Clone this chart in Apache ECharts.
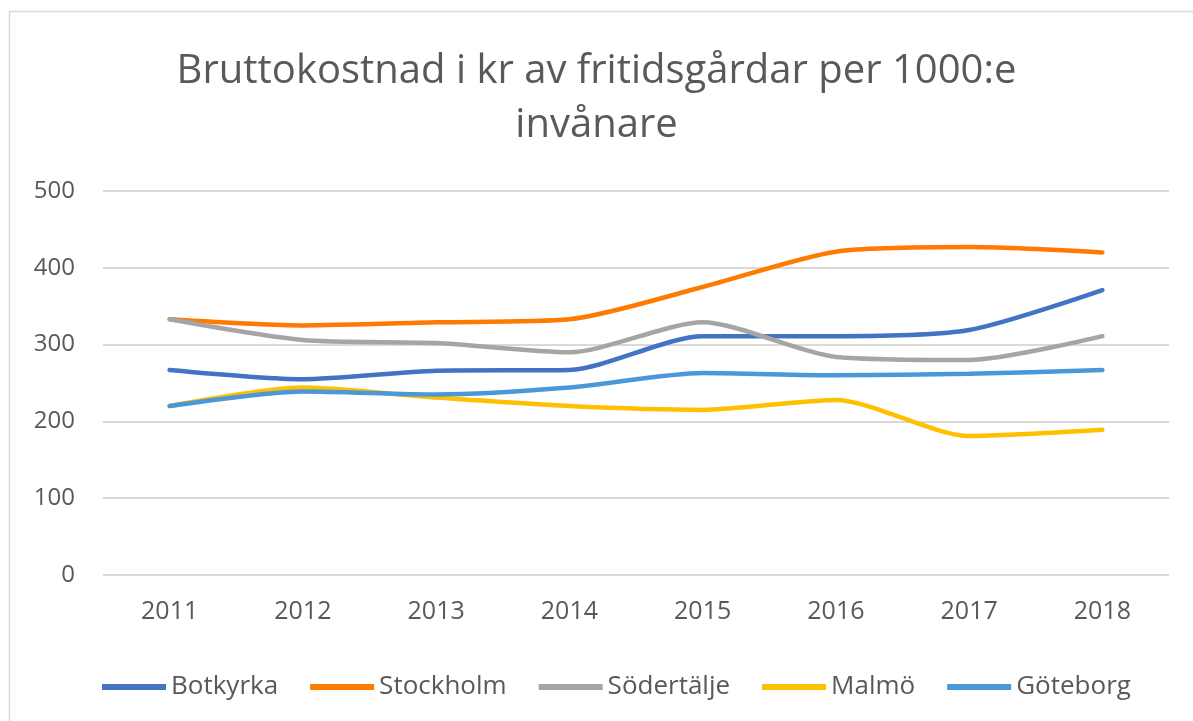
<!DOCTYPE html>
<html><head><meta charset="utf-8">
<script src="https://cdn.jsdelivr.net/npm/echarts@6/dist/echarts.min.js"></script>
<style>html,body{margin:0;padding:0;background:#fff}#c{width:1193px;height:721px}</style>
</head><body><div id="c"></div>
<script>
const years = ['2011','2012','2013','2014','2015','2016','2017','2018'];
const botkyrka   = [267, 255, 266, 267, 311, 311, 319, 371];
const stockholm  = [333, 325, 329, 333, 375, 421, 427, 420];
const sodertalje = [333, 306, 302, 290, 329, 284, 280, 311];
const malmo      = [220, 244, 231, 220, 215, 228, 181, 189];
const goteborg   = [220, 239, 235, 244, 263, 260, 262, 267];
const names = ['Botkyrka','Stockholm','Södertälje','Malmö','Göteborg'];
const colors = ['#4472C4','#FF7A00','#A5A5A5','#FFC000','#4A98D8'];
const seriesData = [botkyrka, stockholm, sodertalje, malmo, goteborg];

const chart = echarts.init(document.getElementById('c'));
const font = 'Open Sans';
chart.setOption({
  animation: false,
  graphic: [{type:'rect', shape:{x:9.5,y:11.5,width:1200,height:720}, style:{fill:'none', stroke:'#D9D9D9', lineWidth:1.5}}],
  title: {
    text: 'Bruttokostnad i kr av fritidsgårdar per 1000:e\ninvånare',
    left: 'center', top: 40,
    textStyle: {fontFamily: font, fontSize: 40, fontWeight: 'normal', color: '#595959', lineHeight: 54}
  },
  grid: {left: 103, right: 24, top: 191, bottom: 146},
  xAxis: {
    type: 'category', data: years, boundaryGap: true,
    axisLine: {show: false}, axisTick: {show: false},
    axisLabel: {fontFamily: font, fontSize: 25, color: '#595959', margin: 24}
  },
  yAxis: {
    type: 'value', min: 0, max: 500, interval: 100,
    axisLine: {show: false}, axisTick: {show: false},
    axisLabel: {fontFamily: font, fontSize: 24, color: '#595959', margin: 28},
    splitLine: {lineStyle: {color: '#D9D9D9', width: 2}}
  },
  legend: {
    top: 669, left: 97, icon: 'rect', itemWidth: 64, itemHeight: 6, itemGap: 32,
    textStyle: {fontFamily: font, fontSize: 26, color: '#595959'},
    data: names
  },
  series: names.map((n, i) => ({
    name: n, type: 'line', data: seriesData[i], smooth: 0.25,
    showSymbol: false, symbol: 'none',
    lineStyle: {width: 4.5, color: colors[i], cap: 'round'},
    itemStyle: {color: colors[i]}
  }))
});
</script></body></html>
